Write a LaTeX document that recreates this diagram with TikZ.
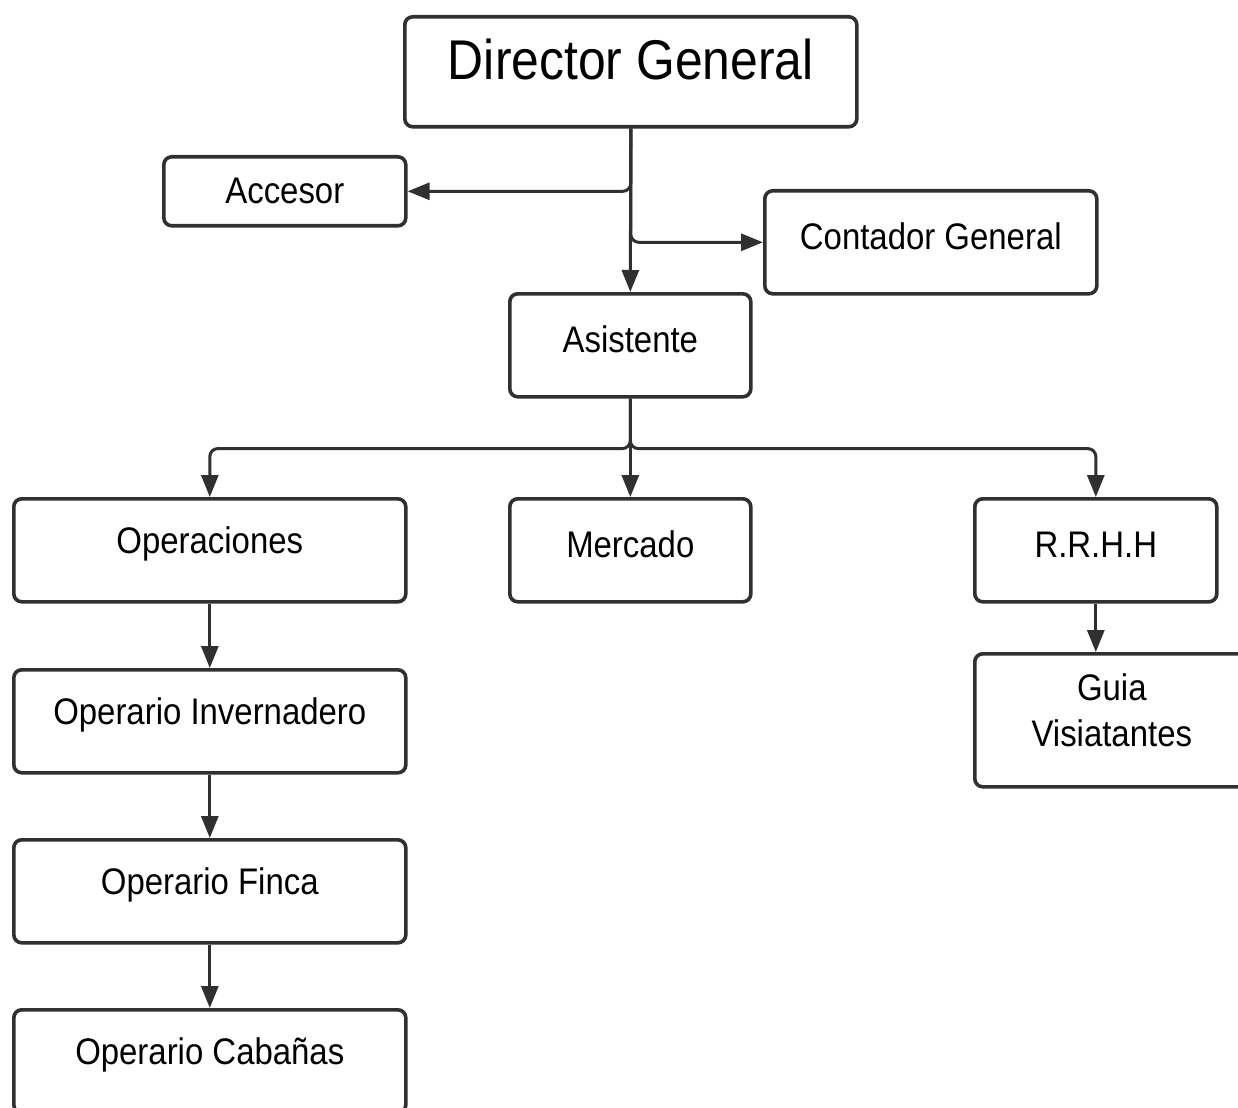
\documentclass[tikz,border=0pt]{standalone}
\usepackage{fontspec}
\setmainfont[FakeStretch=0.89]{Liberation Sans}
\usetikzlibrary{arrows.meta}
\definecolor{ink}{HTML}{303030}
% lift box labels above the geometric centre, keeping their natural size
\newcommand{\lifted}[2][6pt]{\raisebox{#1}[\height][\depth]{#2}}
\begin{document}
\begin{tikzpicture}[x=1pt,y=-1pt,
  box/.style={draw=ink, line width=3.6pt, rounded corners=8pt, fill=white,
    inner sep=0pt, anchor=north west, align=center,
    font=\fontsize{37}{46}\selectfont},
  link/.style={draw=ink, line width=3pt, rounded corners=8pt,
    -{Triangle[length=22pt,width=17pt]}}]
\useasboundingbox (0,0) rectangle (1238,1107);
\clip (0,0) rectangle (1238,1107);
\fill[white] (0,0) rectangle (1238,1107);

% boxes
\node[box, minimum width=452pt, minimum height=110pt,
      font=\fontsize{56}{60}\selectfont] (dir) at (403,15) {\lifted[12pt]{Director General}};
\node[box, minimum width=242pt, minimum height=69pt]  (acc) at (162,155) {Accesor};
\node[box, minimum width=332pt, minimum height=103pt] (con) at (763,189) {\lifted{Contador General}};
\node[box, minimum width=241pt, minimum height=103pt] (asi) at (508,292) {\lifted{Asistente}};
\node[box, minimum width=392pt, minimum height=103pt] (ope) at (12,497) {\lifted{Operaciones}};
\node[box, minimum width=241pt, minimum height=103pt] (mer) at (508,497) {\lifted{Mercado}};
\node[box, minimum width=242pt, minimum height=103pt] (rrh) at (973,497) {\lifted{R.R.H.H}};
\node[box, minimum width=274pt, minimum height=133pt] (gui) at (973,652)
  {\lifted{\begin{tabular}{@{}c@{}}Guia\\Visiatantes\end{tabular}}};
\node[box, minimum width=392pt, minimum height=103pt] (inv) at (12,668) {\lifted{Operario Invernadero}};
\node[box, minimum width=392pt, minimum height=103pt] (fin) at (12,838) {\lifted{Operario Finca}};
\node[box, minimum width=392pt, minimum height=103pt] (cab) at (12,1008) {\lifted{Operario Cabañas}};

% connectors
\draw[link] (dir.south) -- (asi.north);
\draw[link] (dir.south) |- (acc.east);
\draw[link] (dir.south) |- (con.west);
\draw[link] (asi.south) -- ++(0,50) -| (ope.north);
\draw[link] (asi.south) -- (mer.north);
\draw[link] (asi.south) -- ++(0,50) -| (rrh.north);
\draw[link] (ope.south) -- (inv.north);
\draw[link] (inv.south) -- (fin.north);
\draw[link] (fin.south) -- (cab.north);
\draw[link] (rrh.south) -- (rrh.south |- gui.north);
\end{tikzpicture}
\end{document}
